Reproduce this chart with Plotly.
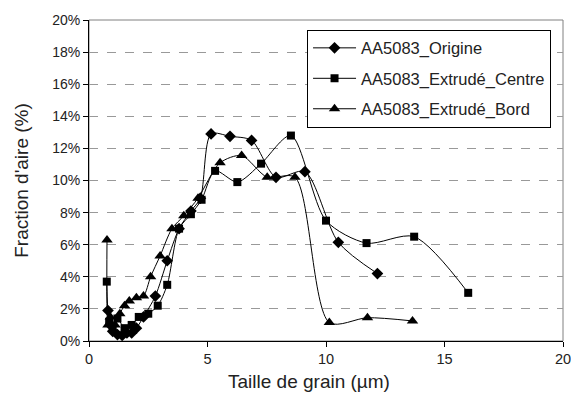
import plotly.graph_objects as go

# Data (grain size in µm, area fraction in %)
origine_x = [0.8, 0.9, 1.0, 1.2, 1.4, 1.6, 1.8, 2.0, 2.3, 2.8, 3.3, 3.8, 4.3, 4.7, 5.15, 5.95, 6.86, 7.89, 9.11, 10.52, 12.17]
origine_y = [1.9, 1.0, 0.6, 0.4, 0.35, 0.5, 0.5, 0.8, 1.5, 2.8, 5.0, 7.0, 8.1, 8.9, 12.9, 12.75, 12.5, 10.2, 10.55, 6.15, 4.2]

centre_x = [0.75, 0.85, 1.0, 1.2, 1.5, 1.8, 2.1, 2.5, 2.9, 3.3, 3.8, 4.3, 4.75, 5.32, 6.26, 7.26, 8.52, 10.0, 11.71, 13.72, 16.0]
centre_y = [3.7, 1.2, 0.8, 1.4, 0.8, 1.0, 1.5, 1.7, 2.2, 3.5, 7.0, 7.9, 8.8, 10.6, 9.9, 11.05, 12.8, 7.5, 6.1, 6.5, 3.0]

bord_x = [0.76, 0.8, 0.9, 1.1, 1.3, 1.5, 1.7, 2.0, 2.3, 2.6, 3.0, 3.5, 4.0, 4.6, 5.53, 6.44, 7.52, 8.69, 10.14, 11.75, 13.65]
bord_y = [6.3, 1.0, 1.5, 1.0, 1.7, 2.2, 2.5, 2.7, 2.8, 4.0, 5.3, 7.0, 7.8, 8.9, 11.1, 11.55, 10.2, 10.2, 1.15, 1.45, 1.25]

y_ticks = list(range(0, 21, 2))
y_tick_labels = [f"{v}%" for v in y_ticks]
x_ticks = [0, 5, 10, 15, 20]

names = ["AA5083_Origine", "AA5083_Extrudé_Centre", "AA5083_Extrudé_Bord"]
symbols = ["diamond", "square", "triangle-up"]
sizes = [9, 8, 10]

fig = go.Figure()
for i, (xs, ys) in enumerate([(origine_x, origine_y), (centre_x, centre_y), (bord_x, bord_y)]):
    fig.add_trace(go.Scatter(
        x=xs, y=ys, mode="lines+markers", name=names[i],
        line=dict(color="black", width=1, shape="spline", smoothing=0.8),
        marker=dict(symbol=symbols[i], size=sizes[i], color="black"),
        legendgroup=str(i),
    ))

font = "Liberation Sans, Arial, sans-serif"
fig.update_layout(
    width=571, height=401,
    margin=dict(l=89, r=8, t=20, b=60, autoexpand=False),
    paper_bgcolor="white", plot_bgcolor="white",
    font=dict(family=font, size=14, color="#222222"),
    showlegend=True,
    legend=dict(
        x=0.46, y=0.97, xanchor="left", yanchor="top",
        bgcolor="white", bordercolor="black", borderwidth=1,
        font=dict(size=16.5, family=font, color="#222222"),
        tracegroupgap=6, itemwidth=43,
    ),
    xaxis=dict(
        range=[0, 20], tickvals=x_ticks, automargin=False,
        showgrid=False, zeroline=False,
        showline=True, linecolor="black", linewidth=1,
        ticks="outside", ticklen=5, tickcolor="black",
        ticklabeloverflow="allow",
        tickfont=dict(size=14.5),
    ),
    yaxis=dict(
        range=[0, 20], tickvals=y_ticks, ticktext=y_tick_labels, automargin=False,
        showgrid=True, gridcolor="#999999", griddash="dash", gridwidth=1,
        zeroline=False,
        showline=True, linecolor="black", linewidth=1,
        ticks="outside", ticklen=5, tickcolor="black",
        title=dict(text="Fraction d'aire (%)", font=dict(size=19), standoff=18),
        tickfont=dict(size=14),
    ),
    annotations=[dict(
        text="Taille de grain (µm)", xref="paper", yref="paper",
        x=0.464, y=-0.127, xanchor="center", yanchor="middle",
        showarrow=False, font=dict(size=19, family=font, color="#222222"),
    )],
)
# plot-area border (top and right)
fig.add_shape(type="rect", xref="paper", yref="paper", x0=0, y0=0, x1=1, y1=1,
              line=dict(color="#808080", width=1), layer="below")

fig.write_html("out.html")
